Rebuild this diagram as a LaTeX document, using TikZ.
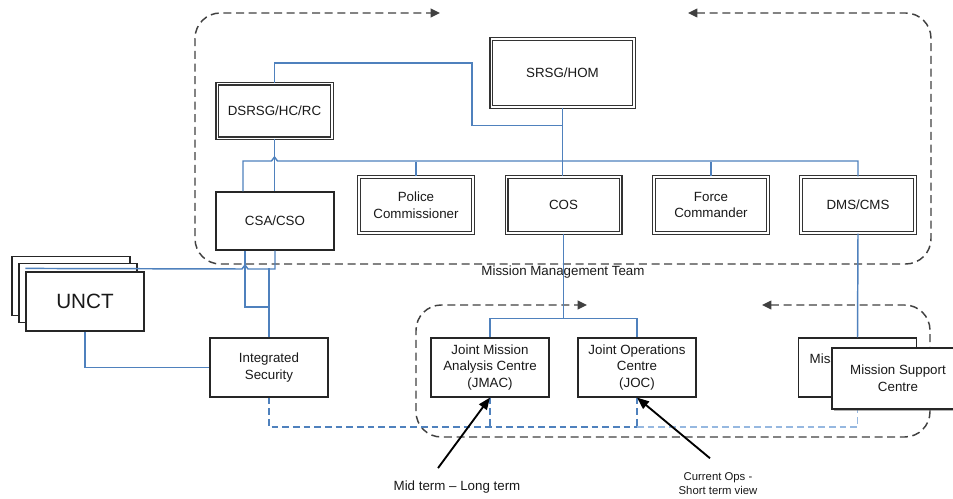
\documentclass[tikz,border=0pt]{standalone}
\usepackage{fontspec}
\setmainfont{Liberation Sans}
\usetikzlibrary{calc,arrows.meta,shadows}
\definecolor{linkblue}{RGB}{79,129,189}
\definecolor{paleblue}{RGB}{150,184,224}
\definecolor{framegray}{RGB}{64,64,64}
\tikzset{
  postbox/.style={draw=black!85,line width=1.1pt,fill=white,align=center,
    minimum width=88.5pt,minimum height=44pt,inner sep=2pt,text=black!90,
    font=\fontsize{10}{12.5}\selectfont},
  seniorbox/.style={postbox,draw=black!80,line width=1pt,double=white,double distance=1pt,
    drop shadow={shadow xshift=1.4pt,shadow yshift=-1.4pt,fill=black!40}},
  bluelink/.style={draw=linkblue,line width=1.1pt},
  feedlink/.style={bluelink,dash pattern=on 5pt off 3pt},
  teamframe/.style={draw=framegray,line width=1.1pt,dash pattern=on 6pt off 3.5pt,
    rounded corners=19pt,{Triangle[length=7pt,width=6.5pt]}-{Triangle[length=7pt,width=6.5pt]}},
  notearrow/.style={draw=black,line width=1.4pt,-{Triangle[length=9pt,width=7pt]}},
  notetext/.style={text=black!90,font=\fontsize{10}{12}\selectfont,align=center}
}

\begin{document}
\begin{tikzpicture}[x=0.75pt,y=-0.75pt]
  \useasboundingbox (0,0) rectangle (953,499);

  % mission management team
  \node[seniorbox,minimum width=107pt,minimum height=51pt] (srsg) at (562.5,73) {SRSG/HOM};
  \node[seniorbox,minimum width=86pt,minimum height=41pt] (dsrsg) at (274.5,111) {DSRSG/HC/RC};
  \node[postbox,minimum height=43.5pt] (csa) at (275,221) {CSA/CSO};
  \node[seniorbox,minimum width=85.5pt,minimum height=42pt] (police) at (416,205) {Police\\Commissioner};
  \node[seniorbox,minimum width=85.5pt,minimum height=42pt] (cos) at (563.5,205) {COS};
  \node[seniorbox,minimum width=85.5pt,minimum height=42pt] (force) at (711,205) {Force\\Commander};
  \node[seniorbox,minimum width=85.5pt,minimum height=42pt] (dms) at (858,205) {DMS/CMS};

  % UNCT stack and security
  \node[postbox] (unctc) at (71,286) {};
  \node[postbox] (unctb) at (78,293) {};
  \node[postbox,font=\fontsize{15.5}{18}\selectfont] (unct) at (85,301.5) {UNCT};
  \node[postbox] (is) at (269,367.5) {Integrated\\Security};

  % joint centres
  \node[postbox] (jmac) at (490,367.5) {Joint Mission\\Analysis Centre\\(JMAC)};
  \node[postbox] (joc) at (637,367.5) {Joint Operations\\Centre\\(JOC)};
  \node[postbox] (mscback) at (857.5,367.5) {Mission Support\\Centre};

  % dashed team frames
  \draw[teamframe] (688,13) -- (931,13) -- (931,264) -- (195,264) -- (195,13) -- (440,13);
  \draw[teamframe] (762,305) -- (930,305) -- (930,437) -- (416,437) -- (416,305) -- (587,305);
  \node[notetext] (mmt) at (563,272) {Mission Management Team};

  % reporting lines
  \coordinate (srsgtee) at ($(srsg.south)+(0,18)$);
  \draw[bluelink] (srsg.south) -- (srsg.south |- cos.north);
  \draw[bluelink] (dsrsg.north) |- (472,63) |- (srsgtee);
  \draw[bluelink] ($(csa.north)+(-32,0)$) |- ($(dsrsg.south |- 0,161)+(-3,0)$)
    -- ++(3,-4) -- ++(3,4) -| (dms.north);
  \foreach \n in {police,force}
    \draw[bluelink] (\n.north) -- ++(0,-14);
  \draw[bluelink] (dsrsg.south) -- (dsrsg.south |- csa.north);
  \draw[bluelink] ($(csa.south)+(-30,0)$) |- (is.north |- 0,307) -- (is.north);
  \draw[bluelink] ($(unct.north west)+(0,-3)$) -- ($(csa.south |- 0,269)+(-33,0)$)
    -- ++(3,-4) -- ++(3,4) -| (csa.south);
  \draw[bluelink] (is.north) -- ++(0,-69);
  \draw[bluelink] (unct.south) |- (is.west);
  \draw[bluelink] (cos.south) -- ++(0,84);
  \draw[bluelink] (jmac.north) -- ++(0,-19) -| (joc.north);
  \draw[bluelink] (dms.south) -- (mscback.north);

  % information feeds
  \draw[feedlink] (is.south) |- (joc.south |- 0,427);
  \draw[feedlink] (jmac.south) -- ++(0,30);
  \draw[feedlink] (joc.south) -- ++(0,30);
  \draw[feedlink,draw=paleblue] (joc.south |- 0,427) -| (mscback.south);

  \node[postbox,minimum width=99pt,minimum height=45.5pt,
    drop shadow={shadow xshift=1.3pt,shadow yshift=-1.3pt,fill=black!60}] (mscfront) at (898,378.5) {Mission Support\\Centre};

  % time horizons
  \node[notetext] (midterm) at (457,487) {Mid term – Long term};
  \node[notetext,font=\fontsize{8.5}{10.5}\selectfont] (curops) at (718,484) {Current Ops -\\Short term view};
  \draw[notearrow] ($(midterm.north)+(-19,-8)$) -- (jmac.south);
  \draw[notearrow] ($(curops.north)+(-8,-10)$) -- (joc.south);
\end{tikzpicture}
\end{document}
